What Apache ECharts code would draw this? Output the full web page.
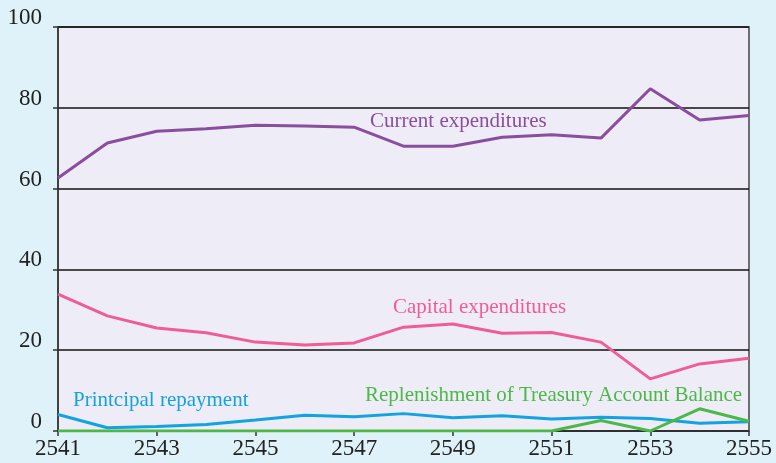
<!DOCTYPE html>
<html>
<head>
<meta charset="UTF-8">
<title></title>
<style type="text/css">
	html, body { margin: 0; padding: 0; background: #dff2fa; }
	#main { width: 776px; height: 463px; }
</style>
</head>
<body>
<div id="main"></div>
<script type="text/javascript" src="https://cdn.jsdelivr.net/npm/echarts@6/dist/echarts.min.js"></script>
<script>
var years = ['2541','2542','2543','2544','2545','2546','2547','2548','2549','2550','2551','2552','2553','2554','2555'];
var currentExp = [62.6, 71.3, 74.2, 74.8, 75.7, 75.5, 75.2, 70.5, 70.5, 72.7, 73.3, 72.5, 84.7, 77.0, 78.1];
var capitalExp = [33.9, 28.5, 25.5, 24.3, 22.0, 21.3, 21.8, 25.7, 26.5, 24.2, 24.4, 22.0, 12.9, 16.6, 18.0];
var principal = [4.1, 0.8, 1.1, 1.6, 2.7, 3.9, 3.5, 4.3, 3.3, 3.8, 3.0, 3.4, 3.1, 1.9, 2.3];
var replenish = [0, 0, 0, 0, 0, 0, 0, 0, 0, 0, 0, 2.6, 0, 5.5, 2.4];

var serif = 'Liberation Serif';
var myChart = echarts.init(document.getElementById('main'));

function line(name, data, color){
	return {
		name: name,
		type: 'line',
		data: data,
		symbol: 'none',
		lineStyle: { color: color, width: 3 },
		itemStyle: { color: color }
	};
}

var option = {
	backgroundColor: '#dff2fa',
	animation: false,
	grid: {
		left: 58, right: 27, top: 27, bottom: 32,
		show: true,
		backgroundColor: '#eeecf6',
		borderColor: '#444',
		borderWidth: 1.5
	},
	xAxis: {
		type: 'category',
		data: years,
		boundaryGap: false,
		axisLine: { lineStyle: { color: '#333', width: 1.5 } },
		axisTick: { show: true, length: 5, lineStyle: { color: '#333', width: 1.5 } },
		axisLabel: { interval: 1, color: '#222', fontFamily: serif, fontSize: 23, margin: 6 },
		splitLine: { show: false }
	},
	yAxis: {
		type: 'value',
		min: 0, max: 100, interval: 20,
		axisLine: { show: true, lineStyle: { color: '#333', width: 1.5 } },
		axisTick: { show: true, length: 5, lineStyle: { color: '#333', width: 1.5 } },
		axisLabel: { color: '#222', fontFamily: serif, fontSize: 23, margin: 16, verticalAlign: 'bottom', lineHeight: 18 },
		splitLine: { show: true, lineStyle: { color: '#111', width: 1.5 } }
	},
	graphic: [
		{ type: 'text', left: 370, top: 111, style: { text: 'Current expenditures', fill: '#8b4d9e', font: '21px "Liberation Serif"' } },
		{ type: 'text', left: 393, top: 297, style: { text: 'Capital expenditures', fill: '#ef5d97', font: '21px "Liberation Serif"' } },
		{ type: 'text', left: 73, top: 390, style: { text: 'Printcipal repayment', fill: '#12a3e0', font: '21px "Liberation Serif"' } },
		{ type: 'text', left: 365, top: 385, style: { text: 'Replenishment of Treasury Account Balance', fill: '#4cb848', font: '21px "Liberation Serif"' } }
	],
	series: [
		line('Current expenditures', currentExp, '#8b4d9e'),
		line('Capital expenditures', capitalExp, '#ef5d97'),
		line('Printcipal repayment', principal, '#12a3e0'),
		line('Replenishment of Treasury Account Balance', replenish, '#4cb848')
	]
};
myChart.setOption(option);
</script>
</body>
</html>
